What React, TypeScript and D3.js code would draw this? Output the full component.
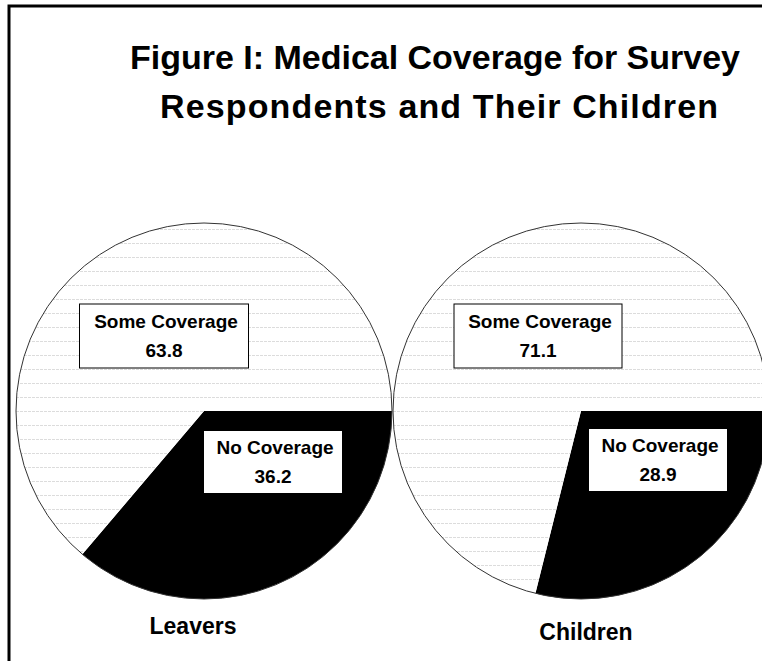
import React from "react";
import * as d3 from "d3";

// Chart data
const groups = ["Leavers", "Children"];
const sliceNames = ["No Coverage", "Some Coverage"];
const noCoverage = [36.2, 28.9];
const someCoverage = [63.8, 71.1];
const titleLines = [
  "Figure I: Medical Coverage for Survey",
  "Respondents and Their Children",
];

const W = 762;
const H = 661;
const R = 188;
const CY = 411;
const FONT = "'Liberation Sans', Arial, Helvetica, sans-serif";

// Title line placement: centre x and rendered width of each line
const titleX = [435, 439];
const titleWidth = [610, 558];

// Label box placement relative to each pie centre (per group, per slice)
const labelLayout: Record<string, Record<string, { dx: number; dy: number; w: number; h: number }>> = {
  Leavers: {
    "Some Coverage": { dx: -40, dy: -75, w: 169, h: 64 },
    "No Coverage": { dx: 69, dy: 51, w: 139, h: 63 },
  },
  Children: {
    "Some Coverage": { dx: -43, dy: -75, w: 168, h: 64 },
    "No Coverage": { dx: 77, dy: 49, w: 139, h: 63 },
  },
};
const groupLabelY: Record<string, number> = { Leavers: 634, Children: 640 };
const groupLabelDx: Record<string, number> = { Leavers: -11, Children: 5 };

type Slice = { name: string; value: number };

export default function App() {
  const x = d3.scalePoint<string>().domain(groups).range([204, 581]);

  const pie = d3
    .pie<Slice>()
    .sort(null)
    .value((d) => d.value)
    .startAngle(Math.PI / 2)
    .endAngle(Math.PI / 2 + 2 * Math.PI);

  const arc = d3.arc<d3.PieArcDatum<Slice>>().innerRadius(0).outerRadius(R);

  const fills: Record<string, string> = {
    "No Coverage": "#000000",
    "Some Coverage": "url(#hlines)",
  };

  return (
    <svg
      width={W}
      height={H}
      viewBox={`0 0 ${W} ${H}`}
      style={{ position: "absolute", left: 0, top: 0, background: "#fff" }}
    >
      <defs>
        <pattern id="hlines" width={12} height={14} patternUnits="userSpaceOnUse">
          <rect width={12} height={14} fill="#fff" />
          <line x1={0} x2={12} y1={0.5} y2={0.5} stroke="#dcdcdc" strokeWidth={1} strokeDasharray="3 1" />
        </pattern>
      </defs>
      <rect width={W} height={H} fill="#fff" />
      {/* outer frame */}
      <rect x={9} y={6} width={W + 20} height={H + 20} fill="none" stroke="#000" strokeWidth={3} />

      {titleLines.map((t, i) => (
        <text
          key={t}
          x={titleX[i]}
          y={69 + i * 49}
          textAnchor="middle"
          fontFamily={FONT}
          fontWeight="bold"
          fontSize={34}
          textLength={titleWidth[i]}
          lengthAdjust="spacing"
          fill="#000"
        >
          {t}
        </text>
      ))}

      {groups.map((g, gi) => {
        const cx = x(g) as number;
        const data: Slice[] = [
          { name: sliceNames[0], value: noCoverage[gi] },
          { name: sliceNames[1], value: someCoverage[gi] },
        ];
        const arcs = pie(data);
        return (
          <g key={g}>
            <g transform={`translate(${cx},${CY})`}>
              {arcs.map((a) => (
                <path key={a.data.name} d={arc(a) as string} fill={fills[a.data.name]} />
              ))}
              <circle r={R} fill="none" stroke="#333" strokeWidth={1} />
              {arcs.map((a) => {
                const L = labelLayout[g][a.data.name];
                return (
                  <g key={"lab" + a.data.name} transform={`translate(${L.dx},${L.dy})`}>
                    <rect
                      x={-L.w / 2}
                      y={-L.h / 2}
                      width={L.w}
                      height={L.h}
                      fill="#fff"
                      stroke="#000"
                      strokeWidth={1}
                    />
                    <text
                      textAnchor="middle"
                      fontFamily={FONT}
                      fontWeight="bold"
                      fontSize={19}
                      fill="#000"
                    >
                      <tspan x={2} y={-8}>{a.data.name}</tspan>
                      <tspan x={0} y={21}>{a.data.value.toFixed(1)}</tspan>
                    </text>
                  </g>
                );
              })}
            </g>
            <text
              x={cx + groupLabelDx[g]}
              y={groupLabelY[g]}
              textAnchor="middle"
              fontFamily={FONT}
              fontWeight="bold"
              fontSize={23}
              fill="#000"
            >
              {g}
            </text>
          </g>
        );
      })}
    </svg>
  );
}
